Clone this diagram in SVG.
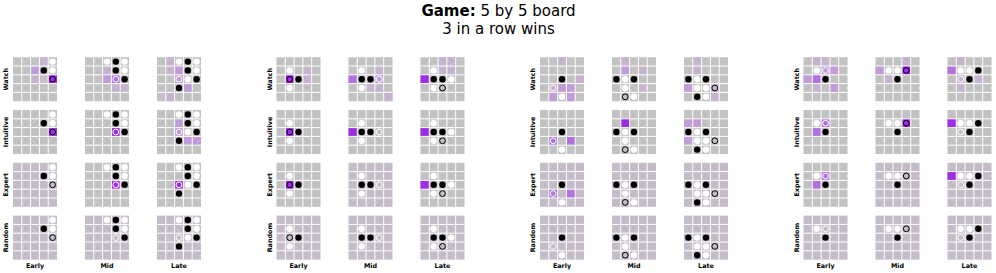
<svg xmlns="http://www.w3.org/2000/svg" xmlns:xlink="http://www.w3.org/1999/xlink" width="996" height="273" viewBox="0 0 996 273">
<style>
text{font-family:"DejaVu Sans",sans-serif;fill:#000}
.t{font-size:15px}
.lab{font-size:6.4px;font-weight:bold}
.g{fill:#c2c2c2}
.R{fill:#c4bcc9}
.f{fill:#c6b4cf}
.l{fill:#bf9dd6}
.m{fill:#b072dc}
.s{fill:#9b2de3}
.b{fill:#000}
.w{fill:#fff}
.rb{fill:none;stroke:#000;stroke-width:1}
.rw{fill:none;stroke:#fff;stroke-width:1}
</style>
<defs>
<path id="grid" d="M8.8 0V44M17.6 0V44M26.4 0V44M35.2 0V44M0 8.8H44M0 17.6H44M0 26.4H44M0 35.2H44" stroke="#fff" stroke-width="1" fill="none"/>
<rect id="bg" width="44" height="44" class="g"/>
<rect id="bgR" width="44" height="44" class="R"/>
<g id="s1a"><circle class="w" cx="39.6" cy="4.4" r="3.2"/><circle class="b" cx="30.8" cy="13.2" r="3.2"/><circle class="w" cx="39.6" cy="13.2" r="3.2"/><circle class="rb" cx="39.6" cy="22" r="2.9"/></g>
<g id="s1b"><circle class="w" cx="22" cy="4.4" r="3.2"/><circle class="b" cx="30.8" cy="4.4" r="3.2"/><circle class="w" cx="39.6" cy="4.4" r="3.2"/><circle class="b" cx="30.8" cy="13.2" r="3.2"/><circle class="w" cx="39.6" cy="13.2" r="3.2"/><circle class="rw" cx="30.8" cy="22" r="2.9"/><circle class="b" cx="39.6" cy="22" r="3.2"/></g>
<g id="s1c"><circle class="w" cx="22" cy="4.4" r="3.2"/><circle class="b" cx="30.8" cy="4.4" r="3.2"/><circle class="w" cx="39.6" cy="4.4" r="3.2"/><circle class="b" cx="30.8" cy="13.2" r="3.2"/><circle class="w" cx="39.6" cy="13.2" r="3.2"/><circle class="rw" cx="22" cy="22" r="2.9"/><circle class="w" cx="30.8" cy="22" r="3.2"/><circle class="b" cx="39.6" cy="22" r="3.2"/><circle class="b" cx="22" cy="30.8" r="3.2"/></g>
<g id="s2a"><circle class="w" cx="13.2" cy="13.2" r="3.2"/><circle class="rb" cx="13.2" cy="22" r="2.9"/><circle class="b" cx="22" cy="22" r="3.2"/><circle class="w" cx="13.2" cy="30.8" r="3.2"/></g>
<g id="s2b"><circle class="w" cx="13.2" cy="13.2" r="3.2"/><circle class="b" cx="13.2" cy="22" r="3.2"/><circle class="b" cx="22" cy="22" r="3.2"/><circle class="rw" cx="30.8" cy="22" r="2.9"/><circle class="w" cx="13.2" cy="30.8" r="3.2"/></g>
<g id="s2c"><circle class="w" cx="13.2" cy="13.2" r="3.2"/><circle class="b" cx="13.2" cy="22" r="3.2"/><circle class="b" cx="22" cy="22" r="3.2"/><circle class="w" cx="30.8" cy="22" r="3.2"/><circle class="w" cx="13.2" cy="30.8" r="3.2"/><circle class="rb" cx="22" cy="30.8" r="2.9"/></g>
<g id="s3a"><circle class="b" cx="22" cy="22" r="3.2"/><circle class="rw" cx="13.2" cy="30.8" r="2.9"/><circle class="w" cx="22" cy="39.6" r="3.2"/></g>
<g id="s3b"><circle class="b" cx="4.4" cy="22" r="3.2"/><circle class="w" cx="13.2" cy="22" r="3.2"/><circle class="b" cx="22" cy="22" r="3.2"/><circle class="w" cx="13.2" cy="30.8" r="3.2"/><circle class="rb" cx="13.2" cy="39.6" r="2.9"/><circle class="w" cx="22" cy="39.6" r="3.2"/></g>
<g id="s3c"><circle class="b" cx="4.4" cy="22" r="3.2"/><circle class="w" cx="13.2" cy="22" r="3.2"/><circle class="b" cx="22" cy="22" r="3.2"/><circle class="w" cx="13.2" cy="30.8" r="3.2"/><circle class="w" cx="22" cy="30.8" r="3.2"/><circle class="rb" cx="30.8" cy="30.8" r="2.9"/><circle class="b" cx="13.2" cy="39.6" r="3.2"/><circle class="w" cx="22" cy="39.6" r="3.2"/></g>
<g id="s4a"><circle class="w" cx="13.2" cy="13.2" r="3.2"/><circle class="rw" cx="22" cy="13.2" r="2.9"/><circle class="b" cx="22" cy="22" r="3.2"/></g>
<g id="s4b"><circle class="w" cx="13.2" cy="13.2" r="3.2"/><circle class="w" cx="22" cy="13.2" r="3.2"/><circle class="rb" cx="30.8" cy="13.2" r="2.9"/><circle class="b" cx="22" cy="22" r="3.2"/></g>
<g id="s4c"><circle class="w" cx="13.2" cy="13.2" r="3.2"/><circle class="w" cx="22" cy="13.2" r="3.2"/><circle class="b" cx="30.8" cy="13.2" r="3.2"/><circle class="rw" cx="13.2" cy="22" r="2.9"/><circle class="b" cx="22" cy="22" r="3.2"/></g>
</defs>

<g id="title">
<text class="t" x="498.5" y="16" text-anchor="middle"><tspan font-weight="bold">Game:</tspan> 5 by 5 board</text>
<text class="t" x="498.5" y="33.5" text-anchor="middle">3 in a row wins</text>
</g>

<g id="labels">
<text class="lab" transform="translate(6,79.2) rotate(-90)" text-anchor="middle" dominant-baseline="central">Watch</text>
<text class="lab" transform="translate(6,132) rotate(-90)" text-anchor="middle" dominant-baseline="central">Intuitive</text>
<text class="lab" transform="translate(6,184.8) rotate(-90)" text-anchor="middle" dominant-baseline="central">Expert</text>
<text class="lab" transform="translate(6,237.6) rotate(-90)" text-anchor="middle" dominant-baseline="central">Random</text>
<text class="lab" transform="translate(270,79.2) rotate(-90)" text-anchor="middle" dominant-baseline="central">Watch</text>
<text class="lab" transform="translate(270,132) rotate(-90)" text-anchor="middle" dominant-baseline="central">Intuitive</text>
<text class="lab" transform="translate(270,184.8) rotate(-90)" text-anchor="middle" dominant-baseline="central">Expert</text>
<text class="lab" transform="translate(270,237.6) rotate(-90)" text-anchor="middle" dominant-baseline="central">Random</text>
<text class="lab" transform="translate(533,79.2) rotate(-90)" text-anchor="middle" dominant-baseline="central">Watch</text>
<text class="lab" transform="translate(533,132) rotate(-90)" text-anchor="middle" dominant-baseline="central">Intuitive</text>
<text class="lab" transform="translate(533,184.8) rotate(-90)" text-anchor="middle" dominant-baseline="central">Expert</text>
<text class="lab" transform="translate(533,237.6) rotate(-90)" text-anchor="middle" dominant-baseline="central">Random</text>
<text class="lab" transform="translate(797,79.2) rotate(-90)" text-anchor="middle" dominant-baseline="central">Watch</text>
<text class="lab" transform="translate(797,132) rotate(-90)" text-anchor="middle" dominant-baseline="central">Intuitive</text>
<text class="lab" transform="translate(797,184.8) rotate(-90)" text-anchor="middle" dominant-baseline="central">Expert</text>
<text class="lab" transform="translate(797,237.6) rotate(-90)" text-anchor="middle" dominant-baseline="central">Random</text>
<text class="lab" x="35" y="268" text-anchor="middle">Early</text>
<text class="lab" x="107" y="268" text-anchor="middle">Mid</text>
<text class="lab" x="179" y="268" text-anchor="middle">Late</text>
<text class="lab" x="298.5" y="268" text-anchor="middle">Early</text>
<text class="lab" x="370.5" y="268" text-anchor="middle">Mid</text>
<text class="lab" x="442.5" y="268" text-anchor="middle">Late</text>
<text class="lab" x="562" y="268" text-anchor="middle">Early</text>
<text class="lab" x="634" y="268" text-anchor="middle">Mid</text>
<text class="lab" x="706" y="268" text-anchor="middle">Late</text>
<text class="lab" x="825.5" y="268" text-anchor="middle">Early</text>
<text class="lab" x="897.5" y="268" text-anchor="middle">Mid</text>
<text class="lab" x="969.5" y="268" text-anchor="middle">Late</text>
</g>

<!-- Panel 1 -->
<g id="p1-watch-early" transform="translate(13,57.2)"><use href="#bg"/><rect class="f" x="26.4" y="0" width="8.8" height="8.8"/><rect class="l" x="17.6" y="8.8" width="8.8" height="8.8"/><rect class="f" x="17.6" y="17.6" width="8.8" height="8.8"/><rect class="s" x="35.2" y="17.6" width="8.8" height="8.8"/><use href="#grid"/><use href="#s1a"/></g>
<g id="p1-watch-mid" transform="translate(85,57.2)"><use href="#bg"/><rect class="f" x="17.6" y="8.8" width="8.8" height="8.8"/><rect class="l" x="17.6" y="17.6" width="8.8" height="8.8"/><rect class="m" x="26.4" y="17.6" width="8.8" height="8.8"/><rect class="f" x="26.4" y="26.4" width="8.8" height="8.8"/><rect class="f" x="35.2" y="26.4" width="8.8" height="8.8"/><use href="#grid"/><use href="#s1b"/></g>
<g id="p1-watch-late" transform="translate(157,57.2)"><use href="#bg"/><rect class="f" x="8.8" y="0" width="8.8" height="8.8"/><rect class="f" x="8.8" y="8.8" width="8.8" height="8.8"/><rect class="l" x="17.6" y="8.8" width="8.8" height="8.8"/><rect class="l" x="17.6" y="17.6" width="8.8" height="8.8"/><rect class="l" x="26.4" y="26.4" width="8.8" height="8.8"/><rect class="f" x="8.8" y="35.2" width="8.8" height="8.8"/><use href="#grid"/><use href="#s1c"/></g>
<g id="p1-intuitive-early" transform="translate(13,110)"><use href="#bg"/><rect class="s" x="35.2" y="17.6" width="8.8" height="8.8"/><use href="#grid"/><use href="#s1a"/></g>
<g id="p1-intuitive-mid" transform="translate(85,110)"><use href="#bg"/><rect class="s" x="26.4" y="17.6" width="8.8" height="8.8"/><use href="#grid"/><use href="#s1b"/></g>
<g id="p1-intuitive-late" transform="translate(157,110)"><use href="#bg"/><rect class="l" x="17.6" y="8.8" width="8.8" height="8.8"/><rect class="l" x="17.6" y="17.6" width="8.8" height="8.8"/><rect class="l" x="26.4" y="26.4" width="8.8" height="8.8"/><rect class="l" x="35.2" y="26.4" width="8.8" height="8.8"/><use href="#grid"/><use href="#s1c"/></g>
<g id="p1-expert-early" transform="translate(13,162.8)"><use href="#bgR"/><use href="#grid"/><use href="#s1a"/></g>
<g id="p1-expert-mid" transform="translate(85,162.8)"><use href="#bg"/><rect class="s" x="26.4" y="17.6" width="8.8" height="8.8"/><use href="#grid"/><use href="#s1b"/></g>
<g id="p1-expert-late" transform="translate(157,162.8)"><use href="#bg"/><rect class="s" x="17.6" y="17.6" width="8.8" height="8.8"/><use href="#grid"/><use href="#s1c"/></g>
<g id="p1-random-early" transform="translate(13,215.6)"><use href="#bgR"/><use href="#grid"/><use href="#s1a"/></g>
<g id="p1-random-mid" transform="translate(85,215.6)"><use href="#bgR"/><use href="#grid"/><use href="#s1b"/></g>
<g id="p1-random-late" transform="translate(157,215.6)"><use href="#bgR"/><use href="#grid"/><use href="#s1c"/></g>

<!-- Panel 2 -->
<g id="p2-watch-early" transform="translate(276.5,57.2)"><use href="#bg"/><rect class="f" x="26.4" y="8.8" width="8.8" height="8.8"/><rect class="f" x="26.4" y="17.6" width="8.8" height="8.8"/><rect class="s" x="8.8" y="17.6" width="8.8" height="8.8"/><use href="#grid"/><use href="#s2a"/></g>
<g id="p2-watch-mid" transform="translate(348.5,57.2)"><use href="#bg"/><rect class="m" x="0" y="17.6" width="8.8" height="8.8"/><rect class="f" x="26.4" y="8.8" width="8.8" height="8.8"/><rect class="l" x="26.4" y="17.6" width="8.8" height="8.8"/><rect class="f" x="17.6" y="26.4" width="8.8" height="8.8"/><rect class="f" x="26.4" y="26.4" width="8.8" height="8.8"/><rect class="f" x="35.2" y="35.2" width="8.8" height="8.8"/><use href="#grid"/><use href="#s2b"/></g>
<g id="p2-watch-late" transform="translate(420.5,57.2)"><use href="#bg"/><rect class="s" x="0" y="17.6" width="8.8" height="8.8"/><rect class="f" x="17.6" y="0" width="8.8" height="8.8"/><rect class="f" x="26.4" y="0" width="8.8" height="8.8"/><rect class="f" x="17.6" y="8.8" width="8.8" height="8.8"/><rect class="f" x="26.4" y="8.8" width="8.8" height="8.8"/><use href="#grid"/><use href="#s2c"/></g>
<g id="p2-intuitive-early" transform="translate(276.5,110)"><use href="#bg"/><rect class="s" x="8.8" y="17.6" width="8.8" height="8.8"/><use href="#grid"/><use href="#s2a"/></g>
<g id="p2-intuitive-mid" transform="translate(348.5,110)"><use href="#bg"/><rect class="s" x="0" y="17.6" width="8.8" height="8.8"/><use href="#grid"/><use href="#s2b"/></g>
<g id="p2-intuitive-late" transform="translate(420.5,110)"><use href="#bg"/><rect class="s" x="0" y="17.6" width="8.8" height="8.8"/><use href="#grid"/><use href="#s2c"/></g>
<g id="p2-expert-early" transform="translate(276.5,162.8)"><use href="#bg"/><rect class="s" x="8.8" y="17.6" width="8.8" height="8.8"/><use href="#grid"/><use href="#s2a"/></g>
<g id="p2-expert-mid" transform="translate(348.5,162.8)"><use href="#bgR"/><use href="#grid"/><use href="#s2b"/></g>
<g id="p2-expert-late" transform="translate(420.5,162.8)"><use href="#bg"/><rect class="s" x="0" y="17.6" width="8.8" height="8.8"/><use href="#grid"/><use href="#s2c"/></g>
<g id="p2-random-early" transform="translate(276.5,215.6)"><use href="#bgR"/><use href="#grid"/><use href="#s2a"/></g>
<g id="p2-random-mid" transform="translate(348.5,215.6)"><use href="#bgR"/><use href="#grid"/><use href="#s2b"/></g>
<g id="p2-random-late" transform="translate(420.5,215.6)"><use href="#bgR"/><use href="#grid"/><use href="#s2c"/></g>

<!-- Panel 3 -->
<g id="p3-watch-early" transform="translate(540,57.2)"><use href="#bg"/><rect class="f" x="17.6" y="0" width="8.8" height="8.8"/><rect class="f" x="35.2" y="17.6" width="8.8" height="8.8"/><rect class="f" x="8.8" y="26.4" width="8.8" height="8.8"/><rect class="l" x="17.6" y="26.4" width="8.8" height="8.8"/><rect class="l" x="26.4" y="26.4" width="8.8" height="8.8"/><rect class="l" x="8.8" y="35.2" width="8.8" height="8.8"/><rect class="l" x="26.4" y="35.2" width="8.8" height="8.8"/><use href="#grid"/><use href="#s3a"/></g>
<g id="p3-watch-mid" transform="translate(612,57.2)"><use href="#bg"/><rect class="f" x="8.8" y="0" width="8.8" height="8.8"/><rect class="l" x="8.8" y="8.8" width="8.8" height="8.8"/><rect class="f" x="26.4" y="8.8" width="8.8" height="8.8"/><rect class="f" x="26.4" y="26.4" width="8.8" height="8.8"/><use href="#grid"/><use href="#s3b"/></g>
<g id="p3-watch-late" transform="translate(684,57.2)"><use href="#bg"/><rect class="f" x="8.8" y="0" width="8.8" height="8.8"/><rect class="f" x="8.8" y="8.8" width="8.8" height="8.8"/><rect class="l" x="0" y="26.4" width="8.8" height="8.8"/><rect class="f" x="26.4" y="26.4" width="8.8" height="8.8"/><rect class="f" x="26.4" y="35.2" width="8.8" height="8.8"/><use href="#grid"/><use href="#s3c"/></g>
<g id="p3-intuitive-early" transform="translate(540,110)"><use href="#bg"/><rect class="m" x="8.8" y="26.4" width="8.8" height="8.8"/><rect class="m" x="26.4" y="26.4" width="8.8" height="8.8"/><use href="#grid"/><use href="#s3a"/></g>
<g id="p3-intuitive-mid" transform="translate(612,110)"><use href="#bg"/><rect class="s" x="8.8" y="8.8" width="8.8" height="8.8"/><use href="#grid"/><use href="#s3b"/></g>
<g id="p3-intuitive-late" transform="translate(684,110)"><use href="#bg"/><rect class="l" x="0" y="8.8" width="8.8" height="8.8"/><rect class="l" x="8.8" y="8.8" width="8.8" height="8.8"/><rect class="l" x="0" y="26.4" width="8.8" height="8.8"/><use href="#grid"/><use href="#s3c"/></g>
<g id="p3-expert-early" transform="translate(540,162.8)"><use href="#bgR"/><rect class="m" x="8.8" y="26.4" width="8.8" height="8.8"/><rect class="m" x="26.4" y="26.4" width="8.8" height="8.8"/><use href="#grid"/><use href="#s3a"/></g>
<g id="p3-expert-mid" transform="translate(612,162.8)"><use href="#bgR"/><use href="#grid"/><use href="#s3b"/></g>
<g id="p3-expert-late" transform="translate(684,162.8)"><use href="#bgR"/><use href="#grid"/><use href="#s3c"/></g>
<g id="p3-random-early" transform="translate(540,215.6)"><use href="#bgR"/><use href="#grid"/><use href="#s3a"/></g>
<g id="p3-random-mid" transform="translate(612,215.6)"><use href="#bgR"/><use href="#grid"/><use href="#s3b"/></g>
<g id="p3-random-late" transform="translate(684,215.6)"><use href="#bgR"/><use href="#grid"/><use href="#s3c"/></g>

<!-- Panel 4 -->
<g id="p4-watch-early" transform="translate(803.5,57.2)"><use href="#bg"/><rect class="f" x="8.8" y="0" width="8.8" height="8.8"/><rect class="f" x="17.6" y="0" width="8.8" height="8.8"/><rect class="l" x="17.6" y="8.8" width="8.8" height="8.8"/><rect class="l" x="26.4" y="8.8" width="8.8" height="8.8"/><rect class="l" x="0" y="17.6" width="8.8" height="8.8"/><rect class="m" x="8.8" y="17.6" width="8.8" height="8.8"/><rect class="f" x="8.8" y="26.4" width="8.8" height="8.8"/><rect class="l" x="26.4" y="26.4" width="8.8" height="8.8"/><use href="#grid"/><use href="#s4a"/></g>
<g id="p4-watch-mid" transform="translate(875.5,57.2)"><use href="#bg"/><rect class="s" x="26.4" y="8.8" width="8.8" height="8.8"/><rect class="l" x="0" y="8.8" width="8.8" height="8.8"/><rect class="f" x="26.4" y="0" width="8.8" height="8.8"/><rect class="f" x="8.8" y="17.6" width="8.8" height="8.8"/><use href="#grid"/><use href="#s4b"/></g>
<g id="p4-watch-late" transform="translate(947.5,57.2)"><use href="#bg"/><rect class="m" x="0" y="8.8" width="8.8" height="8.8"/><rect class="f" x="8.8" y="0" width="8.8" height="8.8"/><rect class="f" x="8.8" y="17.6" width="8.8" height="8.8"/><rect class="f" x="8.8" y="26.4" width="8.8" height="8.8"/><rect class="f" x="26.4" y="17.6" width="8.8" height="8.8"/><use href="#grid"/><use href="#s4c"/></g>
<g id="p4-intuitive-early" transform="translate(803.5,110)"><use href="#bg"/><rect class="m" x="17.6" y="8.8" width="8.8" height="8.8"/><rect class="m" x="8.8" y="17.6" width="8.8" height="8.8"/><use href="#grid"/><use href="#s4a"/></g>
<g id="p4-intuitive-mid" transform="translate(875.5,110)"><use href="#bg"/><rect class="s" x="26.4" y="8.8" width="8.8" height="8.8"/><use href="#grid"/><use href="#s4b"/></g>
<g id="p4-intuitive-late" transform="translate(947.5,110)"><use href="#bg"/><rect class="s" x="0" y="8.8" width="8.8" height="8.8"/><use href="#grid"/><use href="#s4c"/></g>
<g id="p4-expert-early" transform="translate(803.5,162.8)"><use href="#bg"/><rect class="m" x="17.6" y="8.8" width="8.8" height="8.8"/><rect class="m" x="8.8" y="17.6" width="8.8" height="8.8"/><use href="#grid"/><use href="#s4a"/></g>
<g id="p4-expert-mid" transform="translate(875.5,162.8)"><use href="#bgR"/><use href="#grid"/><use href="#s4b"/></g>
<g id="p4-expert-late" transform="translate(947.5,162.8)"><use href="#bgR"/><rect class="s" x="0" y="8.8" width="8.8" height="8.8"/><use href="#grid"/><use href="#s4c"/></g>
<g id="p4-random-early" transform="translate(803.5,215.6)"><use href="#bgR"/><use href="#grid"/><use href="#s4a"/></g>
<g id="p4-random-mid" transform="translate(875.5,215.6)"><use href="#bgR"/><use href="#grid"/><use href="#s4b"/></g>
<g id="p4-random-late" transform="translate(947.5,215.6)"><use href="#bgR"/><use href="#grid"/><use href="#s4c"/></g>
</svg>
